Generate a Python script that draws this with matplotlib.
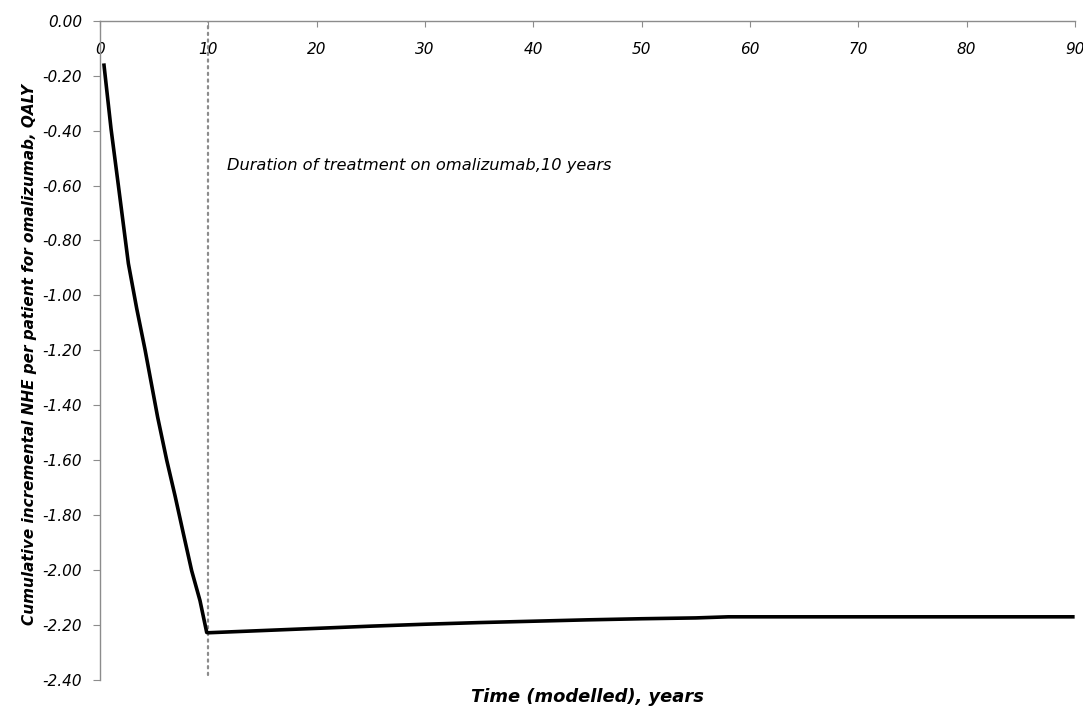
import matplotlib
matplotlib.use("Agg")
import matplotlib.pyplot as plt
import numpy as np

# ---- data ----
years = [0.37, 1.02, 1.69, 2.62, 3.39, 4.16, 5.32, 6.16, 6.93, 7.69, 8.46, 9.23, 9.85, 10,
         15, 20, 25, 30, 35, 40, 45, 50, 55, 58, 60, 70, 80, 89.8]
cum_nhe = [-0.162, -0.394, -0.598, -0.884, -1.048, -1.198, -1.443, -1.600, -1.730, -1.866, -2.002, -2.111, -2.227, -2.228,
           -2.220, -2.212, -2.204, -2.197, -2.191, -2.186, -2.181, -2.177, -2.174, -2.170, -2.170, -2.170, -2.170, -2.170]
treatment_years = 10
annotation = "Duration of treatment on omalizumab,10 years"
annotation_pos = (11.7, -0.528)
x_ticks = [0, 10, 20, 30, 40, 50, 60, 70, 80, 90]
y_ticks = [0.00, -0.20, -0.40, -0.60, -0.80, -1.00, -1.20, -1.40, -1.60, -1.80, -2.00, -2.20, -2.40]
xlabel = "Time (modelled), years"
ylabel = "Cumulative incremental NHE per patient for omalizumab, QALY"

plt.rcParams['font.family'] = ['DejaVu Sans']
plt.rcParams['axes.unicode_minus'] = False

fig = plt.figure(figsize=(10.83, 7.06), dpi=100)
ax = fig.add_axes([100/1083, 1-680/706, 975/1083, (680-20.7)/706])

ax.spines['top'].set_visible(False)
ax.spines['right'].set_visible(False)
ax.spines['bottom'].set_position(('data', 0))
for s in ('left', 'bottom'):
    ax.spines[s].set_color('#8c8c8c')
    ax.spines[s].set_linewidth(1.0)

ax.plot(years, cum_nhe, color='black', lw=2.6, solid_joinstyle='round', zorder=3)
ax.axvline(treatment_years, ymin=0.008, ymax=1, color='#8c8c8c', lw=1.6,
           linestyle=(0, (1, 2.0)), dash_capstyle='round', zorder=2)
ax.text(annotation_pos[0], annotation_pos[1], annotation, fontsize=11.7,
        fontstyle='italic', va='center', ha='left', color='black')

ax.set_xlim(0, 90)
ax.set_ylim(-2.4, 0)
ax.set_xticks(x_ticks)
ax.set_yticks(y_ticks)
ax.set_xticklabels([str(t) for t in x_ticks], fontstyle='italic', fontsize=11)
ax.set_yticklabels([f"{v:.2f}" for v in y_ticks], fontstyle='italic', fontsize=11)

ax.tick_params(axis='x', direction='out', length=4, color='#8c8c8c', pad=11)
ax.tick_params(axis='y', direction='out', length=5, color='#8c8c8c', pad=8)

ax.set_xlabel(xlabel, fontsize=12.9, fontweight='bold', fontstyle='italic')
ax.xaxis.set_label_coords(0.5, -0.012)
ax.set_ylabel(ylabel, fontsize=11, fontweight='bold', fontstyle='italic')
ax.yaxis.set_label_coords(-0.065, 0.493)

fig.savefig("out.png", dpi=100)
